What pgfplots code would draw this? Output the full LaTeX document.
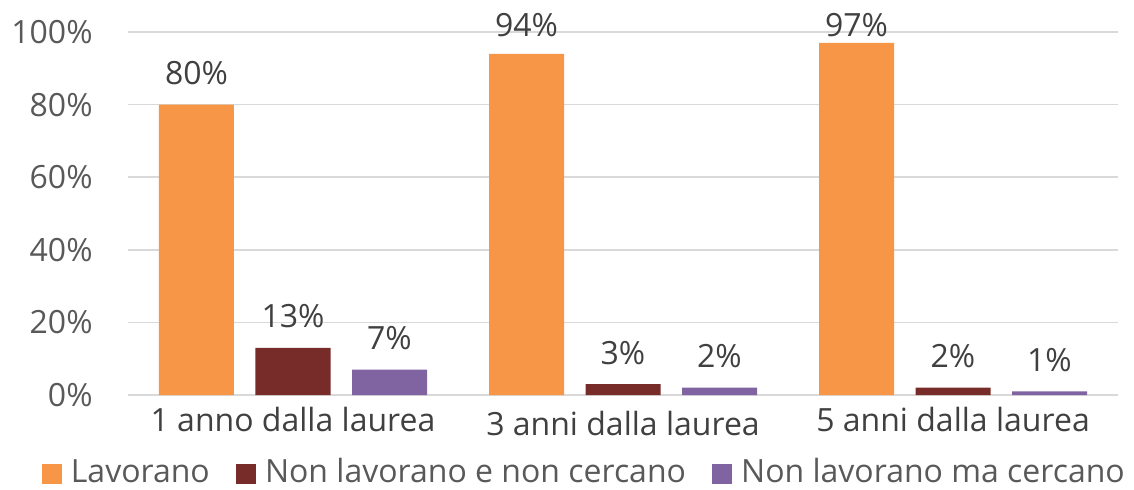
\documentclass[border=0pt]{standalone}
\usepackage{pgfplots}
\pgfplotsset{compat=1.18}
\usepackage{fontspec}
\setmainfont{Open Sans}
\definecolor{cOr}{HTML}{F79646}
\definecolor{cRd}{HTML}{772C2A}
\definecolor{cPu}{HTML}{8064A2}
\definecolor{gridc}{HTML}{D9D9D9}
\definecolor{tickc}{HTML}{595959}
\definecolor{labc}{HTML}{404040}
\begin{document}
\begin{tikzpicture}
\path[use as bounding box] (-64pt,-47pt) rectangle (503pt,197.5pt);
\begin{axis}[
  at={(0,0)}, anchor=south west,
  scale only axis, width=495pt, height=181.5pt,
  xmin=-0.5, xmax=2.5, ymin=0, ymax=100,
  enlargelimits=false,
  ybar, bar width=37.5pt,
  xtick={0,1,2},
  xticklabels={1 anno dalla laurea,{\raisebox{-1.75pt}[\height][\depth]{3 anni dalla laurea}},5 anni dalla laurea},
  ytick={0,20,...,100},
  yticklabel={\pgfmathprintnumber{\tick}\%},
  /pgf/number format/assume math mode=true,
  font=\fontsize{16pt}{19pt}\selectfont,
  axis line style={draw=none},
  tick style={draw=none},
  major tick length=0pt,
  ymajorgrids,
  grid style={color=gridc, line width=0.75pt},
  yticklabel style={color=tickc, inner sep=0pt, xshift=-17.5pt},
  xticklabel style={color=labc, inner sep=0pt, anchor=north, yshift=-6pt},
  visualization depends on={y \as \rawy},
  nodes near coords={\pgfmathprintnumber{\pgfplotspointmeta}\%},
  every node near coord/.append style={color=labc, inner sep=0pt, anchor=south,
     yshift={min(9.6,(98.5-\rawy)*1.815)*1pt}, font=\fontsize{16pt}{19pt}\selectfont},
  legend columns=3,
  legend style={at={(-0.0872,-0.2500)}, anchor=south west, draw=none, fill=none, inner sep=0pt, outer sep=0pt,
    text=tickc, font=\fontsize{16pt}{19pt}\selectfont,
    nodes={inner sep=0pt},
    /tikz/every odd column/.append style={column sep=4.6pt},
    /tikz/every even column/.append style={column sep=13pt}},
  legend image code/.code={\fill[#1,draw=none] (0pt,-6pt) rectangle (10pt,4pt);},
]
\addplot[fill=cOr, draw=none, bar shift=-48.25pt] coordinates {(0,80) (1,94) (2,97)};
\addplot[fill=cRd, draw=none, bar shift=0pt] coordinates {(0,13) (1,3) (2,2)};
\addplot[fill=cPu, draw=none, bar shift=48.25pt] coordinates {(0,7) (1,2) (2,1)};
\legend{Lavorano, Non lavorano e non cercano, Non lavorano ma cercano}
\end{axis}
\end{tikzpicture}
\end{document}
